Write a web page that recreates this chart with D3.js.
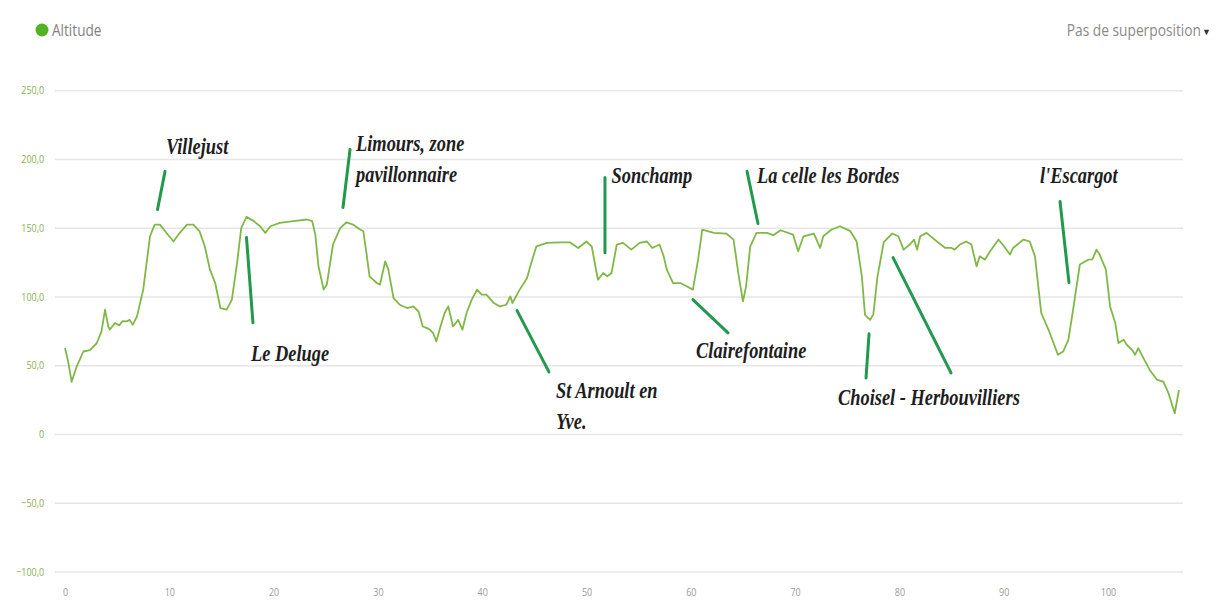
<!DOCTYPE html>
<html>
<head>
<meta charset="utf-8">
<script src="https://cdn.jsdelivr.net/npm/d3@7"></script>
<style>
  body { margin: 0; background: #fff; }
  svg { display: block; }
</style>
</head>
<body>
<div id="chart"></div>
<script>
// Distance (km) and altitude (m)
const distKm = [
  0.0, 0.3, 0.64, 1.12, 1.76, 2.4, 3.04, 3.5, 3.84, 4.15, 4.3, 4.8, 5.2, 5.5, 5.9, 6.2, 6.5, 6.9,
  7.5, 8.15, 8.6, 9.1, 9.6, 10.4, 11.0, 11.7, 12.3, 12.9, 13.4, 13.9, 14.4, 14.9, 15.5, 16.0,
  16.5, 16.9, 17.4, 18.1, 18.7, 19.2, 19.7, 20.6, 21.9, 23.2, 23.7, 24.0, 24.3, 24.8, 25.1,
  25.7, 26.4, 27.0, 27.6, 28.3, 28.6, 28.9, 29.2, 29.9, 30.2, 30.7, 31.0, 31.5, 32.1, 32.8,
  33.4, 33.9, 34.3, 34.7, 35.0, 35.3, 35.6, 36.0, 36.4, 36.75, 37.2, 37.7, 38.1, 38.5, 39.0,
  39.5, 39.95, 40.4, 41.1, 41.7, 42.3, 42.7, 42.9, 43.6, 44.3, 44.7, 45.2, 46.2, 47.5, 48.4,
  49.2, 50.0, 50.5, 50.9, 51.1, 51.6, 52.0, 52.4, 52.9, 53.5, 54.3, 55.1, 55.8, 56.3, 57.0,
  57.4, 57.7, 58.3, 59.0, 59.6, 60.2, 60.7, 61.1, 62.2, 63.4, 64.1, 64.6, 65.0, 65.3, 65.7,
  66.3, 67.3, 67.9, 68.6, 69.8, 70.3, 70.8, 71.8, 72.4, 72.7, 73.5, 74.3, 75.3, 75.9, 76.4,
  76.7, 77.2, 77.5, 77.9, 78.5, 79.3, 79.9, 80.4, 81.0, 81.4, 81.7, 82.0, 82.6, 83.6, 84.4,
  85.0, 85.3, 85.8, 86.4, 86.9, 87.4, 87.7, 88.2, 88.7, 89.5, 89.9, 90.6, 90.9, 91.9, 92.5,
  93.0, 93.6, 94.3, 95.2, 95.7, 96.2, 96.7, 97.3, 98.1, 98.5, 98.9, 99.2, 99.8, 100.2, 100.7,
  101.0, 101.5, 101.8, 102.3, 102.6, 102.9, 103.4, 104.0, 104.7, 105.3, 105.8, 106.4, 106.8
];
const altitude = [
  62.5, 52.7, 38, 49, 60, 61, 66, 74.6, 90.4, 78.2, 76, 80.7, 79, 82, 81.9, 83, 79.4, 85.5,
  105, 143.8, 152.3, 152.3, 147.5, 140, 146.3, 152.3, 152.3, 147.5, 136.5, 119.5, 109.8, 91.6, 90.4, 97.7,
  124.4, 149.9, 157.9, 154.8, 151.1, 146.3, 151.1, 153.5, 154.8, 156, 154.8, 145, 122, 105, 108.6,
  138, 149.9, 154, 152.3, 148.7, 147.5, 131.7, 114.7, 109.8, 108.6, 125.6, 119.5, 98.9, 94, 91.6,
  92.8, 89.1, 78.2, 77, 75.8, 73.4, 67.3, 78.2, 88, 92.8, 78.2, 83, 75.8, 88, 97.7,
  105, 101.3, 101.3, 95.3, 92.8, 94, 100.1, 95.3, 105, 113.5, 124.4, 136.5, 139, 139.4, 139.4,
  135.3, 140, 136.5, 120, 112.2, 117.1, 114.7, 117.1, 137.8, 139, 134.1, 139, 140, 135.3, 137.8,
  129.2, 119.5, 109.8, 109.8, 107.4, 105, 126.8, 148.7, 146.3, 145.8, 141.4, 114.7, 96.4, 107.4, 136.5,
  146.3, 146.3, 144.6, 148.2, 145, 132.9, 143.8, 145.8, 135.3, 143.8, 148.7, 151.1, 147.5, 140, 114.7,
  86.7, 83, 87, 114.7, 139.5, 145.8, 143.8, 134.1, 137.8, 141.4, 134.1, 143.8, 146.3, 140, 135.3,
  135.3, 134.1, 137.8, 140, 137.8, 122, 129.2, 126.8, 132.9, 141.4, 137.8, 130.5, 135.3, 141.4, 140,
  129.2, 88, 75.8, 57.6, 60, 68.5, 92.8, 123.2, 126.8, 127, 134.1, 130.5, 119.5, 92.8, 80.7,
  66.1, 68.5, 64.9, 61.2, 57.6, 62.5, 55.2, 46.6, 39.4, 38.1, 29.7, 15.1, 32
];
const yTicks = [-100, -50, 0, 50, 100, 150, 200, 250];
const xTicks = [0, 10, 20, 30, 40, 50, 60, 70, 80, 90, 100];
const seriesName = "Altitude";
const overlayLabel = "Pas de superposition";

// Place names: text anchor and leader lines, in km / metres
const placeNames = [
  { lines: ["Villejust"], at: [9.68, 203.4], leaders: [[[9.59, 191], [8.87, 163.3]]] },
  { lines: ["Limours, zone", "pavillonnaire"], at: [27.9, 205.5], leaders: [[[27.33, 207], [26.65, 164.7]]] },
  { lines: ["Le Deluge"], at: [17.83, 53.2], leaders: [[[17.4, 142.9], [18.02, 80.9]]] },
  { lines: ["Sonchamp"], at: [52.4, 182.9], leaders: [[[51.77, 186.6], [51.77, 131.9]]] },
  { lines: ["La celle les Bordes"], at: [66.35, 182.9], leaders: [[[65.39, 191], [66.44, 153.1]]] },
  { lines: ["l'Escargot"], at: [93.48, 182.9], leaders: [[[95.4, 169.1], [96.26, 110.1]]] },
  { lines: ["St Arnoult en", "Yve."], at: [47.08, 26.2], leaders: [[[43.34, 89.7], [46.4, 45.2]]] },
  { lines: ["Clairefontaine"], at: [60.5, 55.4], leaders: [[[60.2, 97.7], [63.57, 73.6]]] },
  { lines: ["Choisel - Herbouvilliers"], at: [74.11, 21.1],
    leaders: [[[77.09, 72.9], [76.8, 40.8]], [[79.39, 128.3], [84.95, 44.5]]] }
];

const W = 1220, H = 602;
const gridLeft = 55, gridRight = 1183;

const svg = d3.select("#chart")
  .append("svg")
    .attr("width", W)
    .attr("height", H);

const xScale = d3.scaleLinear().domain([0, 100]).range([65, 1108]);
const yScale = d3.scaleLinear().domain([-100, 250]).range([571.5, 90.25]);

const sansCond = "'Open Sans', 'Liberation Sans', sans-serif";

// Y axis with gridlines
const fmtY = v => v === 0 ? "0" : d3.format(".1f")(v).replace(".", ",");
const yAxis = svg.append("g")
  .attr("transform", `translate(${gridLeft},0)`)
  .call(d3.axisLeft(yScale)
    .tickValues(yTicks)
    .tickSize(-(gridRight - gridLeft))
    .tickPadding(14)
    .tickFormat(fmtY));
yAxis.select(".domain").remove();
yAxis.selectAll(".tick line")
  .attr("stroke", "#e6e6e6")
  .attr("stroke-width", 1.6);
yAxis.selectAll(".tick text")
  .attr("fill", "#8cb052")
  .style("font-family", sansCond)
  .style("font-size", "11.5px")
  .attr("transform", "scale(0.78,1)");

// X axis labels
const xAxis = svg.append("g")
  .attr("transform", `translate(0,${yScale(-100)})`)
  .call(d3.axisBottom(xScale)
    .tickValues(xTicks)
    .tickSize(0)
    .tickPadding(16)
    .tickFormat(d3.format("d")));
xAxis.select(".domain").remove();
xAxis.selectAll(".tick text")
  .attr("fill", "#9a9a9a")
  .style("font-family", sansCond)
  .style("font-size", "11.5px")
  .attr("transform", "scale(0.78,1)");

// Profile line
const profile = distKm.map((d, i) => ({ km: d, alt: altitude[i] }));
svg.append("path")
  .datum(profile)
  .attr("fill", "none")
  .attr("stroke", "#80b847")
  .attr("stroke-width", 1.8)
  .attr("stroke-linejoin", "round")
  .attr("d", d3.line()
    .x(d => xScale(d.km))
    .y(d => yScale(d.alt)));

// Place-name leaders
const ann = svg.append("g");
placeNames.forEach(p => {
  p.leaders.forEach(l => {
    ann.append("line")
      .attr("x1", xScale(l[0][0])).attr("y1", yScale(l[0][1]))
      .attr("x2", xScale(l[1][0])).attr("y2", yScale(l[1][1]))
      .attr("stroke", "#22994c")
      .attr("stroke-width", 3)
      .attr("stroke-linecap", "round");
  });
  p.lines.forEach((t, i) => {
    ann.append("text")
      .attr("transform", `translate(${xScale(p.at[0])},${yScale(p.at[1]) + i * 31}) scale(0.8,1)`)
      .style("font-family", "'Liberation Serif', 'DejaVu Serif', serif")
      .style("font-style", "italic")
      .style("font-weight", "bold")
      .style("font-size", "23px")
      .attr("fill", "#1e1e1e")
      .text(t);
  });
});

// Legend
svg.append("circle")
  .attr("cx", 42).attr("cy", 30).attr("r", 6.5)
  .attr("fill", "#52b423");
svg.append("text")
  .attr("transform", "translate(52,36) scale(0.85,1)")
  .style("font-family", sansCond)
  .style("font-size", "16px")
  .attr("fill", "#808080")
  .text(seriesName);

svg.append("text")
  .attr("transform", "translate(1201,36) scale(0.86,1)")
  .attr("text-anchor", "end")
  .style("font-family", sansCond)
  .style("font-size", "16px")
  .attr("fill", "#8a8a8a")
  .text(overlayLabel);
svg.append("text")
  .attr("x", 1202).attr("y", 35)
  .style("font-family", sansCond)
  .style("font-size", "9px")
  .attr("fill", "#333")
  .text("\u25BC");
</script>
</body>
</html>
